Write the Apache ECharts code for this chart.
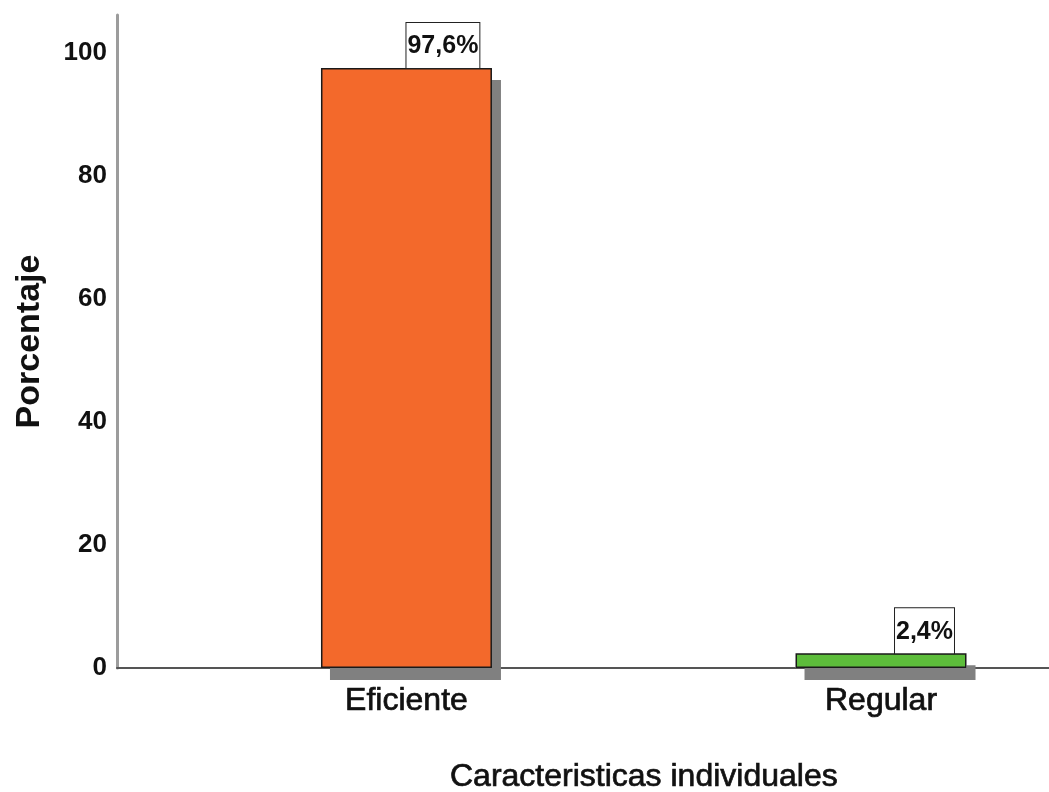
<!DOCTYPE html>
<html>
<head>
<meta charset="utf-8">
<script src="https://cdn.jsdelivr.net/npm/echarts@6/dist/echarts.min.js"></script>
<style>
  html, body { margin: 0; padding: 0; background: #fff; }
  #chart { width: 1049px; height: 792px; }
</style>
</head>
<body>
<div id="chart"></div>
<script>
// 数据：类别与百分比
const categories = ['Eficiente', 'Regular'];
const percentages = [97.6, 2.4];
const barColors = ['#f3692b', '#5dbd3b'];
const xAxisTitle = 'Caracteristicas individuales';
const yAxisTitle = 'Porcentaje';

const FONT = "'Liberation Sans', Arial, sans-serif";

/**
 * 百分比格式：小数点用逗号。
 */
function fmtPct(v) {
  return v.toFixed(1).replace('.', ',') + '%';
}

function render() {
  const chart = echarts.init(document.getElementById('chart'), null, { renderer: 'canvas' });
  // 标签相对柱中心的水平偏移
  const labelShift = [0, 14];
  const points = categories.map((c, i) => [i, percentages[i]]);
  // 阴影层（无边框）与前景层（带边框）分开，避免边框阴影压在柱面上
  const shadowData = points.map(p => ({ value: p }));
  const barData = points.map((p, i) => ({
    value: p,
    itemStyle: { color: barColors[i] },
    label: { offset: [labelShift[i], 0] }
  }));

  chart.setOption({
    backgroundColor: '#fff',
    animation: false,
    title: {
      text: xAxisTitle,
      left: 445, top: 756,
      textStyle: {
        fontFamily: FONT, fontSize: 32, fontWeight: 'normal', color: '#111',
        textBorderColor: '#111', textBorderWidth: 0.7
      }
    },
    grid: { left: 117, right: 0, top: 15, bottom: 124 },
    xAxis: {
      type: 'value',
      min: -0.61, max: 1.354,
      splitLine: { show: false },
      axisTick: { show: false },
      axisLine: { show: true, onZero: false, lineStyle: { color: '#555', width: 2 } },
      axisLabel: {
        customValues: [0, 1],
        formatter: (v) => categories[Math.round(v)] || '',
        margin: 17,
        fontFamily: FONT, fontSize: 32, color: '#111',
        textBorderColor: '#111', textBorderWidth: 0.7
      }
    },
    yAxis: {
      type: 'value',
      min: 0, max: 106.2, interval: 20,
      name: yAxisTitle,
      nameLocation: 'middle',
      nameGap: 70,
      nameTextStyle: { fontFamily: FONT, fontSize: 34, fontWeight: 'bold', color: '#111' },
      splitLine: { show: false },
      axisTick: { show: false },
      axisLine: { show: true, onZero: false, lineStyle: { color: '#9c9c9c', width: 3 } },
      axisLabel: {
        showMaxLabel: false,
        margin: 10,
        padding: [10, 0, 0, 0],
        fontFamily: FONT, fontSize: 26, fontWeight: 'bold', color: '#111'
      }
    },
    series: [
      {
        type: 'bar',
        data: shadowData,
        barWidth: 171,
        barGap: '-100%',
        z: 1,
        silent: true,
        itemStyle: {
          color: '#fff',
          shadowColor: '#808080', shadowBlur: 0, shadowOffsetX: 9, shadowOffsetY: 12
        }
      },
      {
        type: 'bar',
        data: barData,
        barWidth: 171,
        barGap: '-100%',
        z: 3,
        itemStyle: { borderColor: '#1a1a1a', borderWidth: 1.5 },
        label: {
          show: true,
          position: 'top',
          distance: 0,
          align: 'left',
          formatter: (p) => fmtPct(p.value[1]),
          fontFamily: FONT, fontSize: 25, fontWeight: 'bold', color: '#111',
          backgroundColor: '#fff',
          borderColor: '#222', borderWidth: 1,
          padding: [11, 1, 9, 1]
        }
      }
    ]
  });
}

render();
</script>
</body>
</html>
